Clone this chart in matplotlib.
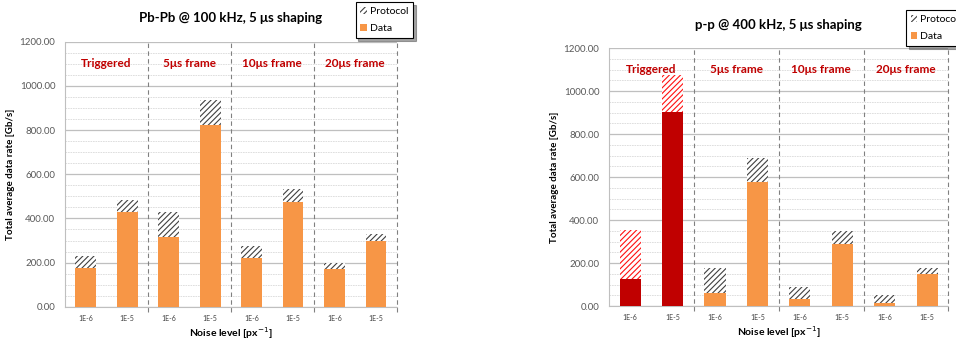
import matplotlib.pyplot as plt
from matplotlib.patches import Patch
from matplotlib.ticker import MultipleLocator, FormatStrFormatter

plt.rcParams['font.family'] = ['Lato', 'DejaVu Sans']
plt.rcParams['hatch.linewidth'] = 0.8

# Noise levels and readout modes
noise_levels = ['1E-6', '1E-5', '1E-6', '1E-5', '1E-6', '1E-5', '1E-6', '1E-5']
modes = ['Triggered', '5\u03bcs frame', '10\u03bcs frame', '20\u03bcs frame']

# Pb-Pb @ 100 kHz, rates in Gb/s
pbpb_data = [175, 430, 315, 825, 222, 475, 171, 299]
pbpb_protocol = [55, 55, 115, 110, 54, 58, 27, 29]

# p-p @ 400 kHz, rates in Gb/s
pp_data = [124, 902, 61, 578, 33, 290, 16, 148]
pp_protocol = [230, 172, 118, 111, 56, 58, 34, 28]

ORANGE = '#F79646'
DARKRED = '#C00000'
HATCH_GREY = '#404040'


def draw_panel(ax, title, data, protocol, highlight_triggered=False):
    x = list(range(len(data)))
    for i in x:
        face = ORANGE
        hatch_col = HATCH_GREY
        if highlight_triggered and i < 2:
            face = DARKRED
            hatch_col = '#FF1010'
        ax.bar(i, data[i], width=0.5, color=face, linewidth=0, zorder=3)
        ax.bar(i, protocol[i], width=0.5, bottom=data[i], facecolor='white',
               edgecolor=hatch_col, hatch='//////', linewidth=0, zorder=3)

    ax.set_xlim(-0.5, 7.5)
    ax.set_ylim(0, 1200)
    ax.yaxis.set_major_locator(MultipleLocator(200))
    ax.yaxis.set_minor_locator(MultipleLocator(50))
    ax.yaxis.set_major_formatter(FormatStrFormatter('%.2f'))
    ax.grid(axis='y', which='major', color='#BFBFBF', linewidth=0.9, zorder=0)
    ax.grid(axis='y', which='minor', color='#D9D9D9', linewidth=0.6,
            linestyle=(0, (2, 1)), zorder=0)

    # dashed separators between readout modes
    for b in [1.5, 3.5, 5.5, 7.5]:
        ax.axvline(b, color='#808080', linestyle=(0, (4, 3)), linewidth=0.8,
                   zorder=2, ymin=-0.02, clip_on=False)
    for k, m in enumerate(modes):
        ax.text(2 * k + 0.5, 1100, m, color=DARKRED, fontsize=8.5,
                fontweight='bold', ha='center', va='center', zorder=4)

    ax.set_xticks(x)
    ax.set_xticklabels(noise_levels, fontsize=5, color='#404040')
    ax.tick_params(axis='x', length=0, pad=6)
    ax.tick_params(axis='y', which='both', length=0, labelsize=7,
                   labelcolor='#595959', pad=7)
    for s in ['top', 'right']:
        ax.spines[s].set_visible(False)
    ax.spines['left'].set_color('#BFBFBF')
    ax.spines['bottom'].set_color('#BFBFBF')

    ax.set_title(title, fontsize=9.5, fontweight='bold', pad=14)
    ax.set_ylabel('Total average data rate [Gb/s]', fontsize=7,
                  fontweight='bold', labelpad=3)
    ax.set_xlabel('Noise level [px$^{-1}$]', fontsize=7.5, fontweight='bold',
                  labelpad=2)


fig = plt.figure(figsize=(9.56, 3.42), dpi=100)
ax1 = fig.add_axes([0.068, 0.103, 0.347, 0.775])
ax2 = fig.add_axes([0.637, 0.105, 0.355, 0.754])

draw_panel(ax1, 'Pb-Pb @ 100 kHz, 5 \u03bcs shaping', pbpb_data, pbpb_protocol)
draw_panel(ax2, 'p-p @ 400 kHz, 5 \u03bcs shaping', pp_data, pp_protocol,
           highlight_triggered=True)

handles = [Patch(facecolor='white', edgecolor=HATCH_GREY, hatch='//////',
                 linewidth=0, label='Protocol'),
           Patch(facecolor=ORANGE, linewidth=0, label='Data')]
for pos in [(0.372, 0.993), (0.948, 0.97)]:
    leg = fig.legend(handles=handles, loc='upper left', bbox_to_anchor=pos,
                     fontsize=7.5, frameon=True, fancybox=False, shadow=True,
                     handlelength=0.6, handleheight=0.6, handletextpad=0.3,
                     labelspacing=0.8, borderpad=0.45, borderaxespad=0)
    leg.get_frame().set_edgecolor('black')
    leg.get_frame().set_linewidth(0.8)

fig.savefig('out.png', dpi=100)
